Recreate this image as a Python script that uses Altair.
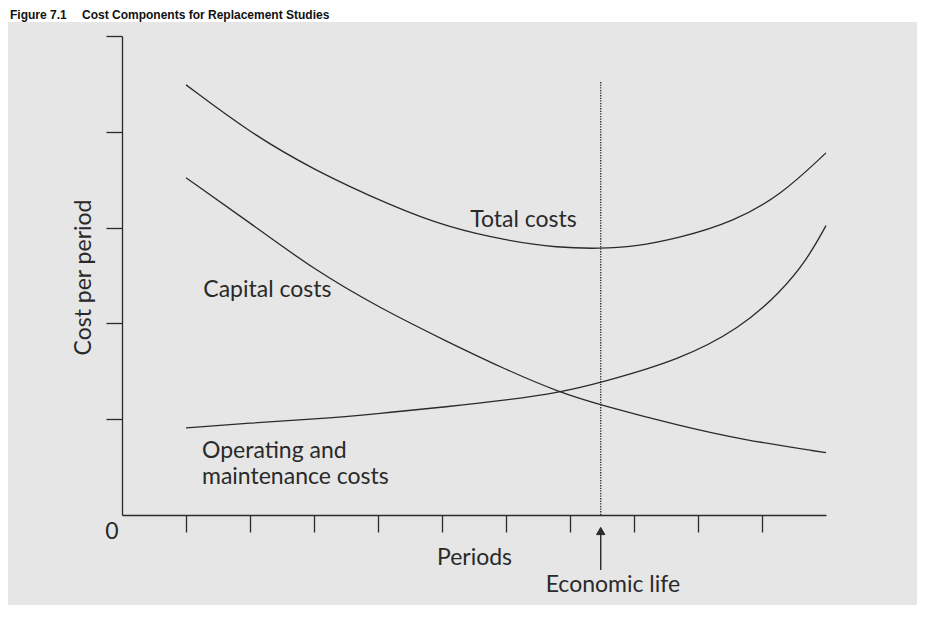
import altair as alt
import pandas as pd

# ---- data ----
title_number = ["Figure 7.1"]
title_text = ["Cost Components for Replacement Studies"]

total_x = [1.0, 2.0, 3.0, 4.2, 5.1, 6.05, 6.8, 7.47, 8.0, 8.7, 9.55, 10.3, 11.0]
total_y = [4.49, 3.99, 3.60, 3.23, 3.00, 2.86, 2.79, 2.78, 2.80, 2.89, 3.06, 3.34, 3.78]

capital_x = [1.0, 2.0, 3.0, 4.03, 5.08, 6.02, 6.84, 7.47, 8.72, 9.66, 11.0]
capital_y = [3.52, 3.05, 2.56, 2.16, 1.81, 1.51, 1.28, 1.15, 0.93, 0.79, 0.65]

om_x = [1.0, 2.0, 3.0, 4.03, 5.08, 6.02, 6.84, 7.47, 8.72, 9.66, 10.28, 10.7, 11.0]
om_y = [0.91, 0.96, 1.00, 1.06, 1.13, 1.20, 1.28, 1.38, 1.62, 1.95, 2.32, 2.66, 3.02]

x_ticks = [1, 2, 3, 4, 5, 6, 7, 8, 9, 10]
y_ticks = [1, 2, 3, 4, 5]
economic_life = [7.48]
economic_life_top = [4.52]
origin_label = ["0"]

rows = []
for name, xs, ys in [("Total costs", total_x, total_y),
                     ("Capital costs", capital_x, capital_y),
                     ("Operating and maintenance costs", om_x, om_y)]:
    for a, b in zip(xs, ys):
        rows.append({"series": name, "period": a, "cost": b})
df = pd.DataFrame(rows)

INK = "#2a2a2a"
FONT = "Lato"
FS = 23

xscale = alt.Scale(domain=[0, 11], nice=False, zero=False)
yscale = alt.Scale(domain=[0, 5], nice=False, zero=False)

# gray panel background
panel = alt.Chart(pd.DataFrame({"a": [0]})).mark_rect(color="#e6e6e6").encode(
    x=alt.value(-115), x2=alt.value(795), y=alt.value(-14), y2=alt.value(569)
)

# figure title in the strip above the panel
t1 = alt.Chart(pd.DataFrame({"t": title_number})).mark_text(
    align="left", baseline="alphabetic", font="Liberation Sans", fontWeight="bold",
    fontSize=12, color="#111111"
).encode(x=alt.value(-112), y=alt.value(-17), text="t:N")
t2 = alt.Chart(pd.DataFrame({"t": title_text})).mark_text(
    align="left", baseline="alphabetic", font="Liberation Sans", fontWeight="bold",
    fontSize=12, color="#111111"
).encode(x=alt.value(-40), y=alt.value(-17), text="t:N")

lines = alt.Chart(df).mark_line(interpolate="basis", color=INK, strokeWidth=1.3).encode(
    x=alt.X("period:Q", scale=xscale,
            axis=alt.Axis(values=x_ticks, labels=False, tickSize=17, grid=False,
                          domainColor=INK, tickColor=INK, domainWidth=1.3, tickWidth=1.3,
                          title="Periods", titleX=352, titleY=42, titleBaseline="middle",
                          titleAlign="center", titleFont=FONT, titleFontSize=FS,
                          titleFontWeight="normal", titleColor=INK, zindex=1)),
    y=alt.Y("cost:Q", scale=yscale,
            axis=alt.Axis(values=y_ticks, labels=False, tickSize=16, grid=False,
                          domainColor=INK, tickColor=INK, domainWidth=1.3, tickWidth=1.3,
                          title="Cost per period", titleX=-39, titleY=241, titleAngle=-90,
                          titleBaseline="middle", titleAlign="center", titleFont=FONT,
                          titleFontSize=FS, titleFontWeight="normal", titleColor=INK,
                          zindex=1)),
    detail="series:N",
)

econ_df = pd.DataFrame({"p": economic_life, "top": economic_life_top, "zero": [0.0]})
dotted = alt.Chart(econ_df).mark_rule(color="#333333", strokeWidth=1.4, strokeDash=[1.3, 1.3]).encode(
    x=alt.X("p:Q", scale=xscale), y=alt.Y("zero:Q", scale=yscale), y2="top:Q"
)
arrow_shaft = alt.Chart(econ_df).mark_rule(color=INK, strokeWidth=1.4).encode(
    x=alt.X("p:Q", scale=xscale), y=alt.value(497), y2=alt.value(534)
)
arrow_head = alt.Chart(econ_df).mark_point(
    shape="triangle-up", filled=True, fill=INK, stroke=INK, strokeWidth=1,
    opacity=1, fillOpacity=1, size=70
).encode(x=alt.X("p:Q", scale=xscale), y=alt.value(495))


def label(text, xv, yv, align="left"):
    return alt.Chart(pd.DataFrame({"t": [text], "xv": [xv], "yv": [yv]})).mark_text(
        align=align, baseline="alphabetic", font=FONT, fontSize=FS, color=INK, lineHeight=26
    ).encode(x=alt.X("xv:Q", scale=xscale), y=alt.Y("yv:Q", scale=yscale), text="t")


lbl_total = label("Total costs", 5.44, 3.01)
lbl_capital = label("Capital costs", 1.27, 2.28)
lbl_om = label(["Operating and", "maintenance costs"], 1.25, 0.595)
lbl_econ = label("Economic life", 7.67, -0.80, align="center")

zero_lbl = alt.Chart(pd.DataFrame({"t": origin_label, "x0": [0.0], "y0": [0.0]})).mark_text(
    align="center", baseline="middle", font=FONT, fontSize=FS, color=INK, dx=-10, dy=17
).encode(x=alt.X("x0:Q", scale=xscale), y=alt.Y("y0:Q", scale=yscale), text="t:N")

chart = alt.layer(
    panel, t1, t2, dotted, lines, arrow_shaft, arrow_head,
    lbl_total, lbl_capital, lbl_om, lbl_econ, zero_lbl
).properties(
    width=704, height=479,
    autosize=alt.AutoSizeParams(type="none"),
    padding={"left": 114, "top": 28, "right": 91, "bottom": 90},
    background="white",
).configure_view(strokeWidth=0)

chart.save("out.html", embed_options={"renderer": "svg", "actions": False})
